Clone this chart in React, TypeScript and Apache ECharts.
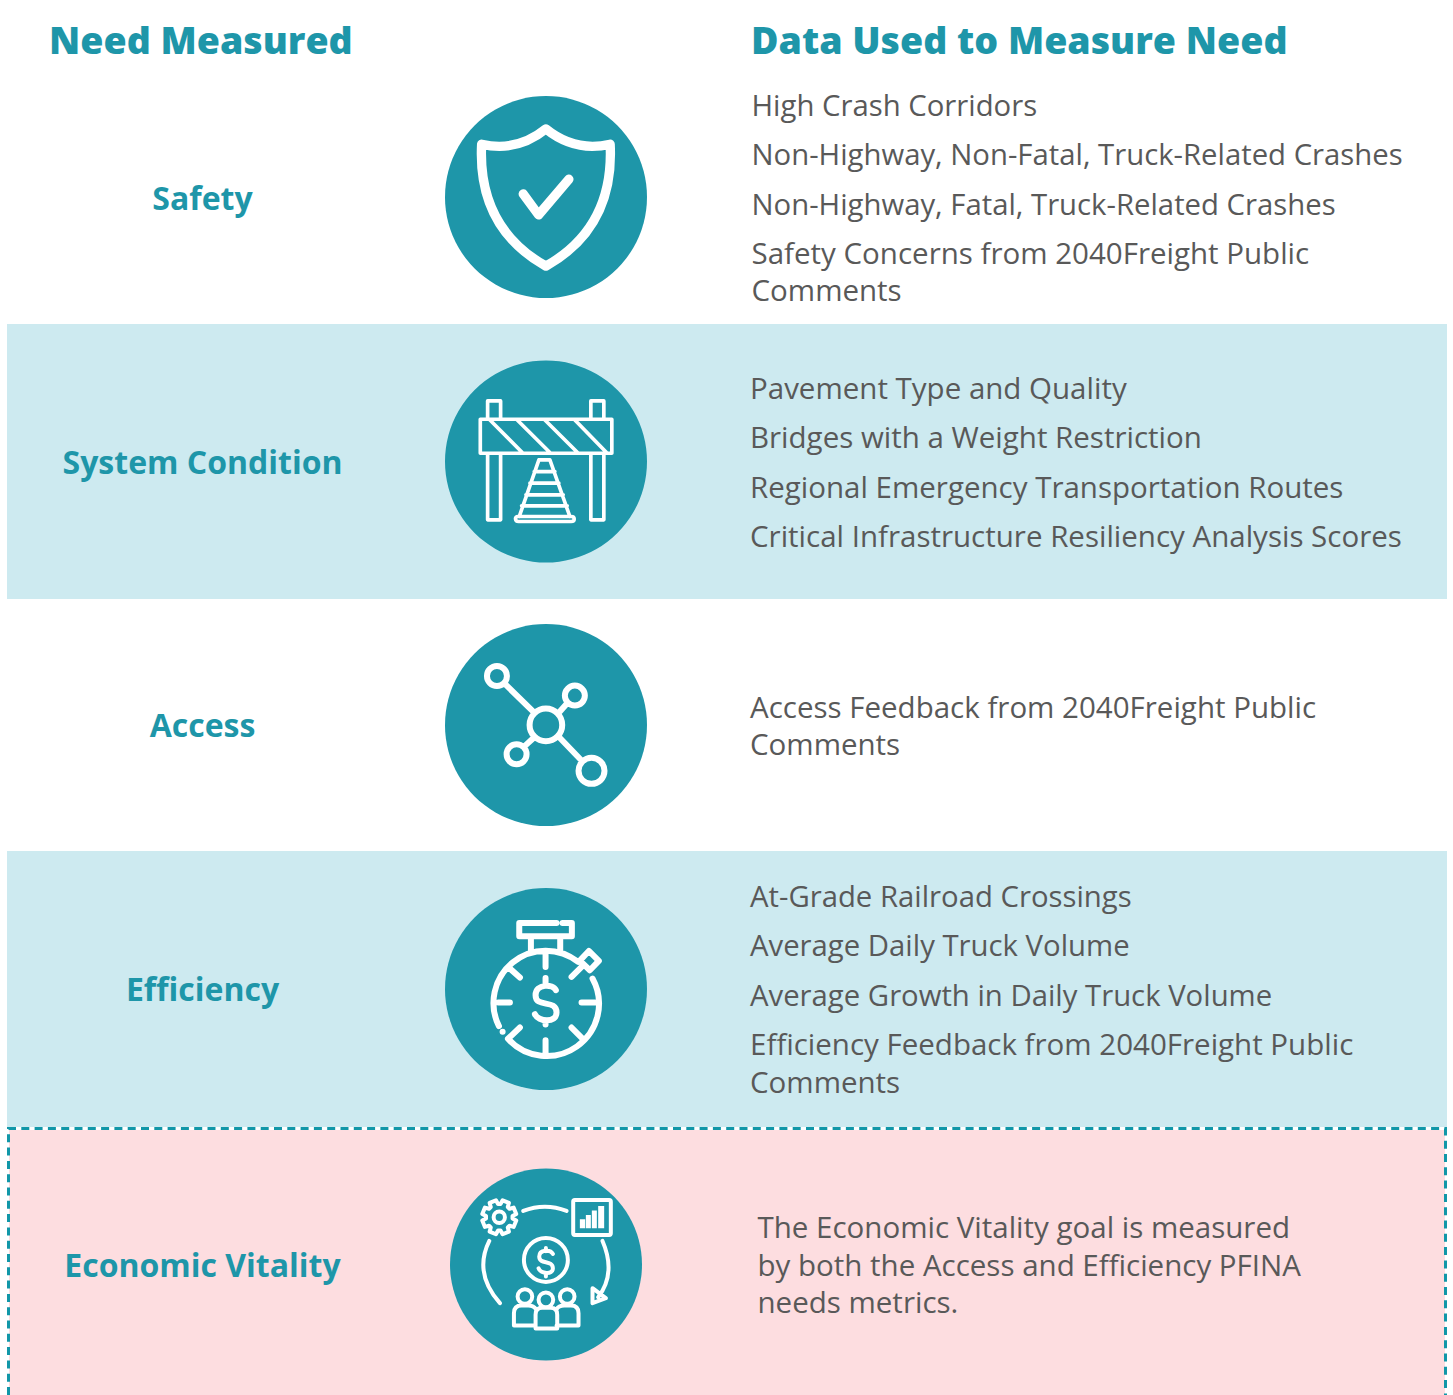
import React, { useEffect, useRef } from "react";
import * as echarts from "echarts";

const TEAL = "#1e96a9";
const TEXT = "#595959";
const FONT = '"Open Sans", sans-serif';

const needNames = ["Safety", "System Condition", "Access", "Efficiency", "Economic Vitality"];
const headers = ["Need Measured", "Data Used to Measure Need"];
const safetyLines = ["High Crash Corridors", "Non-Highway, Non-Fatal, Truck-Related Crashes", "Non-Highway, Fatal, Truck-Related Crashes", "Safety Concerns from 2040Freight Public", "Comments"];
const conditionLines = ["Pavement Type and Quality", "Bridges with a Weight Restriction", "Regional Emergency Transportation Routes", "Critical Infrastructure Resiliency Analysis Scores"];
const accessLines = ["Access Feedback from 2040Freight Public", "Comments"];
const efficiencyLines = ["At-Grade Railroad Crossings", "Average Daily Truck Volume", "Average Growth in Daily Truck Volume", "Efficiency Feedback from 2040Freight Public", "Comments"];
const vitalityLines = ["The Economic Vitality goal is measured", "by both the Access and Efficiency PFINA", "needs metrics."];

const circ = (x: number, y: number, r: number) => `M${x - r} ${y}A${r} ${r} 0 1 0 ${x + r} ${y}A${r} ${r} 0 1 0 ${x - r} ${y}Z`;
const rect = (a: number, b: number, c: number, d: number) => `M${a} ${b}L${c} ${b}L${c} ${d}L${a} ${d}Z`;
const seg = (a: number, b: number, c: number, d: number) => `M${a} ${b}L${c} ${d}`;

const gear = (() => {
  const cx = 178, cy = 172, R = 52, r = 40;
  let d = "";
  for (let i = 0; i < 8; i++) {
    const base = (i * Math.PI) / 4 + Math.PI / 8;
    const pts = [[r, base - 0.3], [R, base - 0.2], [R, base + 0.2], [r, base + 0.3]];
    pts.forEach(([m, a], j) => {
      const px = (cx + m * Math.cos(a)).toFixed(1), py = (cy + m * Math.sin(a)).toFixed(1);
      d += `${i === 0 && j === 0 ? "M" : "L"}${px} ${py}`;
    });
  }
  return d + "Z";
})();

const shieldPath = "M318 117C265 160 200 180 125 163C118 300 160 440 318 529C476 440 518 300 511 163C436 180 371 160 318 117ZM250 312L296 375L387 268";
const barrierPath = [
  rect(143, 138, 182, 193), rect(453, 138, 492, 193), rect(143, 295, 182, 495), rect(453, 295, 492, 495), rect(121, 193, 516, 295),
  seg(150, 195, 247, 293), seg(232, 195, 330, 293), seg(315, 195, 413, 293), seg(405, 195, 500, 293),
  "M297 315L330 315L390 485M297 315L238 485",
  "M234 485L394 485C406 485 406 500 394 500L236 500C224 500 224 485 234 485Z",
  seg(283, 350, 345, 350), seg(270, 385, 357, 385), seg(258, 420, 370, 420), seg(245, 453, 382, 453),
].join("");
const networkPath = [
  circ(171, 168, 30), circ(405, 227, 30), circ(230, 403, 30), circ(318, 315, 49), circ(455, 453, 39),
  seg(198, 195, 280, 275), seg(360, 275, 382, 250), seg(255, 378, 280, 355), seg(358, 352, 428, 425),
].join("");
const stopwatchPath = [
  "M350 123L238 123L238 163L396 163L396 123L368 123", seg(273, 163, 273, 205), seg(361, 163, 361, 205),
  "M177 433A157 157 0 0 1 415 240", "M458 290A157 157 0 0 1 204 471",
  seg(317, 215, 317, 255), seg(210, 260, 240, 287), seg(175, 362, 210, 362), seg(425, 362, 465, 362),
  seg(205, 470, 240, 437), seg(317, 475, 317, 515), seg(395, 437, 428, 470), seg(395, 285, 432, 248),
  "M447 207L477 237L450 265L420 236Z",
  "M348 325C340 305 287 305 287 340C287 380 350 350 350 392C350 425 295 420 285 397", seg(317, 288, 317, 305), seg(317, 418, 317, 428),
  seg(188, 450, 188.1, 450),
].join("");
const vitalityPath = [
  gear, circ(178, 172, 17), "M250 153Q315 128 380 153", "M405 120L508 120Q513 120 513 125L513 220Q513 225 508 225L405 225Q400 225 400 220L400 125Q400 120 405 120Z",
  "M148 243Q100 340 180 430", "M488 243Q530 340 475 412", "M458 430L458 385L498 415Z", circ(318, 300, 66),
  "M339 282C332 268 298 268 298 290C298 316 339 298 339 326C339 345 303 342 296 325", seg(318, 264, 318, 274), seg(318, 340, 318, 350),
  circ(255, 410, 22), circ(318, 420, 22), circ(382, 410, 22),
  "M286 497L222 497L222 460Q222 437 245 437L265 437Q282 437 288 448", "M350 497L416 497L416 460Q416 437 393 437L373 437Q356 437 350 448",
  "M287 506L287 465Q287 444 307 444L332 444Q352 444 352 465L352 506Z",
].join("");
const barsPath = rect(420, 178, 436, 205) + rect(438, 165, 453, 205) + rect(456, 152, 471, 205) + rect(475, 138, 493, 205);

echarts.graphic.registerShape("shieldIcon", echarts.graphic.extendPath(shieldPath, {}));
echarts.graphic.registerShape("barrierIcon", echarts.graphic.extendPath(barrierPath, {}));
echarts.graphic.registerShape("networkIcon", echarts.graphic.extendPath(networkPath, {}));
echarts.graphic.registerShape("stopwatchIcon", echarts.graphic.extendPath(stopwatchPath, {}));
echarts.graphic.registerShape("vitalityIcon", echarts.graphic.extendPath(vitalityPath, {}));
echarts.graphic.registerShape("barsIcon", echarts.graphic.extendPath(barsPath, {}));

const txt = (s: string, x: number, y: number, font: string, fill: string, align = "left") => ({
  type: "text", x, y, silent: true,
  style: { text: s, x: 0, y: 0, font, fill, textAlign: align, textVerticalAlign: "middle" },
});
const band = (x: number, y: number, width: number, height: number, fill: string) => ({
  type: "rect", shape: { x, y, width, height }, style: { fill }, silent: true,
});
const disc = (cx: number, cy: number, r: number) => ({
  type: "circle", shape: { cx, cy, r }, style: { fill: TEAL }, silent: true,
});
const icon = (type: string, x: number, y: number, lineWidth: number) => ({
  type, x, y, scaleX: 1 / 3, scaleY: 1 / 3, silent: true,
  style: { fill: "none", stroke: "#fff", lineWidth, lineCap: "round", lineJoin: "round" },
});

const needFont = '700 32px "Open Sans", sans-serif';
const headFont = '800 37.5px "Open Sans", sans-serif';
const bodyFont = '400 29.5px "Open Sans", sans-serif';
const tightFont = '400 29.3px "Open Sans", sans-serif';

const block = (lines: string[], x: number, ys: number[], font = bodyFont) => lines.map((l, i) => txt(l, x, ys[i], font, TEXT));

const needYs = [197, 461, 724, 988, 1264];

function App() {
  const ref = useRef<HTMLDivElement>(null);
  useEffect(() => {
    const chart = echarts.init(ref.current!, null, { renderer: "svg" });
    chart.setOption({
      animation: false,
      backgroundColor: "#fff",
      graphic: {
        elements: [
          band(7, 324, 1440, 275, "#cdeaf0"),
          band(7, 851, 1440, 276, "#cdeaf0"),
          band(9, 1130, 1436, 265, "#fddde0"),
          {
            type: "polyline", silent: true,
            shape: { points: [[8.5, 1395], [8.5, 1128.5], [1445.5, 1128.5], [1445.5, 1395]] },
            style: { fill: "none", stroke: "#1197a8", lineWidth: 3, lineDash: [8, 5.3] },
          },
          txt(headers[0], 49, 39, headFont, TEAL),
          txt(headers[1], 751, 39, headFont, TEAL),
          ...needNames.map((n, i) => txt(n, 202.5, needYs[i], needFont, TEAL, "center")),
          disc(546, 197, 101), disc(546, 461.5, 101), disc(546, 725, 101), disc(546, 989, 101), disc(546, 1264.5, 96),
          icon("shieldIcon", 440, 90, 28),
          icon("barrierIcon", 440, 355, 11),
          icon("networkIcon", 440, 620, 18),
          icon("stopwatchIcon", 440, 882, 18),
          icon("vitalityIcon", 440, 1160, 12),
          { type: "barsIcon", x: 440, y: 1160, scaleX: 1 / 3, scaleY: 1 / 3, silent: true, style: { fill: "#fff" } },
          ...block(safetyLines.slice(0, 3), 751.5, [105, 154, 204], tightFont),
          ...block(safetyLines.slice(3), 751.5, [252, 289]),
          ...block(conditionLines, 750, [387, 436, 486, 535]),
          ...block(accessLines, 750, [706, 743]),
          ...block(efficiencyLines.slice(0, 3), 750, [896, 945, 995], tightFont),
          ...block(efficiencyLines.slice(3), 750, [1043, 1081]),
          ...block(vitalityLines, 757.5, [1226, 1264, 1301]),
        ],
      },
    });
    return () => chart.dispose();
  }, []);
  return <div ref={ref} style={{ position: "fixed", left: 0, top: 0, width: 1453, height: 1395, fontFamily: FONT }} />;
}

export default App;
